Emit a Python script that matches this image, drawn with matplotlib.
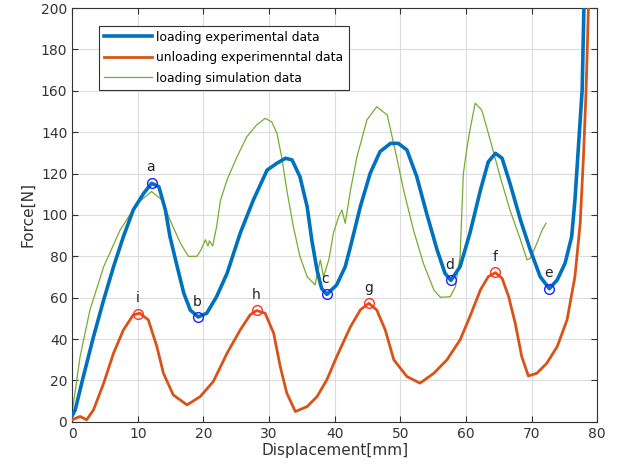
import matplotlib.pyplot as plt
import numpy as np

# loading experimental data (blue)
load_x = [0, 0.46, 1.7, 3.25, 4.8, 6.3, 7.8, 9.3, 10.9, 12.1, 13.2, 14.2, 14.9, 16, 17, 18, 19.2,
          20.5, 22, 23.6, 25.6, 27.6, 29.7, 31.2, 32.5, 33.5, 34.7, 35.8, 36.5, 37.3, 38, 38.8,
          40.3, 41.6, 42.4, 43.9, 45.4, 46.9, 48.5, 49.7, 51, 52.5, 54, 55.6, 56.8, 57.7, 59.1,
          60.6, 62.2, 63.4, 64.5, 65.5, 66.7, 68.3, 69.8, 71.3, 72.7, 73.9, 75.1, 76.1, 76.6,
          77.2, 77.7, 78.0]
load_y = [3, 5.8, 21.9, 41.2, 59, 75, 89.5, 102.4, 110.5, 115.3, 113.7, 102.4, 89.5, 75, 62.2, 54,
          50.7, 52.5, 60.5, 71.8, 91.2, 107.2, 121.7, 125, 127.4, 126.6, 118.5, 104, 88, 73.4, 64.5,
          61.6, 66.2, 75, 84.7, 104, 120.1, 130.6, 134.6, 134.6, 131.4, 118.5, 100.8, 83.1, 71.8,
          68.4, 75, 91.2, 112, 125.7, 129.8, 127.4, 115.3, 97.6, 83.1, 70.2, 64.4, 68.6, 76.7,
          89.5, 107.2, 136.2, 160.4, 205]

# unloading experimental data (orange)
unload_x = [0, 1.2, 2.2, 3.25, 4.8, 6.3, 7.8, 9.3, 10.3, 11.6, 12.9, 13.9, 15.4, 17.5, 19.5, 21.5,
            23.6, 25.6, 27.1, 28.1, 29.4, 30.7, 31.7, 32.7, 34, 35.8, 37.3, 38.8, 40.3, 42.4,
            43.9, 45.2, 46.4, 47.7, 49, 51, 53, 55.1, 57.1, 59.1, 60.6, 62.2, 63.4, 64.5, 65.5,
            66.5, 67.5, 68.5, 69.5, 70.8, 72.3, 73.9, 75.4, 76.6, 77.4, 77.9, 78.3, 78.7]
unload_y = [1, 2.6, 1, 5.8, 18.7, 33.2, 44.4, 51.7, 52.5, 49.3, 36.4, 23.5, 13, 8.2, 12.2, 19.5,
            33.2, 44.4, 51.7, 53.8, 52.5, 42.8, 26.7, 13.9, 5, 7.4, 12.2, 20.3, 31.5, 46,
            54.1, 57.3, 54.1, 44.4, 30, 21.9, 18.7, 23.5, 30, 39.6, 50.9, 63.8, 70.2, 72.1, 69.4,
            60.5, 47.7, 31.5, 22.2, 23.5, 28.3, 36.4, 49.3, 70.2, 96, 128.2, 160.4, 205]

# loading simulation data (green)
sim_x = [0, 0.2, 1.2, 2.7, 4.8, 7.3, 9.9, 12.1, 13.7, 14.9, 16.5, 17.7, 19, 19.6, 20.3, 20.7,
         20.9, 21.4, 22, 22.6, 23.6, 25.1, 26.6, 28.1, 29.4, 30.4, 31.2, 32, 32.7, 33.7, 34.7,
         35.8, 37, 37.8, 38.3, 39.1, 39.8, 40.6, 41.1, 41.6, 42.4, 43.4, 44.9, 46.4, 48, 49.2,
         50.5, 52, 53.5, 55.1, 56.1, 57.6, 58.4, 59.1, 59.6, 60.1, 60.6, 61.4, 62.4, 63.7, 65.2,
         66.7, 68.3, 69.3, 69.8, 70.8, 71.6, 72.2]
sim_y = [5, 9, 31.5, 54, 75, 92.7, 105.6, 111.3, 107.2, 97.6, 86.3, 80, 80, 83, 88, 85,
         87.5, 85, 94.3, 107.2, 117, 128, 137.8, 143.5, 146.7, 145, 139.5, 126.6, 112, 94.3, 79.9,
         70.2, 66.2, 78.3, 70.2, 78.3, 91.2, 99.2, 102.4, 96, 112, 128.2, 145.9, 152.3, 148.3, 131.4,
         112, 92.7, 76.7, 63.8, 60.2, 60.5, 65.4, 79.9, 120.1, 131.4, 141, 154, 150.7, 136.2, 118.5,
         102.4, 88, 78.3, 79, 86.3, 92.7, 96]

# marked points
blue_pt_x = [12.1, 19.2, 38.8, 57.7, 72.7]
blue_pt_y = [115.6, 50.7, 61.6, 68.4, 64.4]
blue_lab = ['a', 'b', 'c', 'd', 'e']
red_pt_x = [10.0, 28.1, 45.2, 64.4]
red_pt_y = [52.3, 54.0, 57.3, 72.3]
red_lab = ['i', 'h', 'g', 'f']

fig = plt.figure(figsize=(6.17, 4.74), dpi=100)
ax = fig.add_axes([0.117, 0.11, 0.851, 0.873])

ax.plot(load_x, load_y, color='#0072BD', lw=2.6, label='loading experimental data', zorder=3,
        solid_joinstyle='round')
ax.plot(unload_x, unload_y, color='#D95319', lw=2.0, label='unloading experimenntal data', zorder=3,
        solid_joinstyle='round')
ax.plot(sim_x, sim_y, color='#77AC30', lw=0.9, label='loading simulation data', zorder=2)

ax.plot(blue_pt_x, blue_pt_y, 'o', mfc='none', mec='#2020ff', ms=7, mew=1, zorder=4)
ax.plot(red_pt_x, red_pt_y, 'o', mfc='none', mec='#ff3030', ms=7, mew=1, zorder=4)
for x, y, t in zip(blue_pt_x, blue_pt_y, blue_lab):
    ax.text(x - 0.2, y + 4, t, ha='center', va='bottom', fontsize=10, color='#222222')
for x, y, t in zip(red_pt_x, red_pt_y, red_lab):
    ax.text(x, y + 4, t, ha='center', va='bottom', fontsize=10, color='#222222')

ax.set_xlim(0, 80)
ax.set_ylim(0, 200)
ax.set_xticks(np.arange(0, 81, 10))
ax.set_yticks(np.arange(0, 201, 20))
ax.grid(True, color='#dcdcdc', lw=0.8)
ax.set_axisbelow(True)
ax.tick_params(direction='in', top=True, right=True, labelsize=10, colors='#333333', length=4)
for s in ax.spines.values():
    s.set_color('#333333')
    s.set_linewidth(0.8)
ax.set_xlabel('Displacement[mm]', fontsize=11, color='#333333', labelpad=2)
ax.set_ylabel('Force[N]', fontsize=11, color='#333333', labelpad=4)

leg = ax.legend(loc='upper left', bbox_to_anchor=(0.051, 0.957), fontsize=8.9, fancybox=False,
                framealpha=1, edgecolor='#333333', borderpad=0.4, handlelength=3.9,
                labelspacing=0.6, handletextpad=0.35, borderaxespad=0)
leg.get_frame().set_linewidth(0.8)

fig.savefig('out.png', dpi=100)
